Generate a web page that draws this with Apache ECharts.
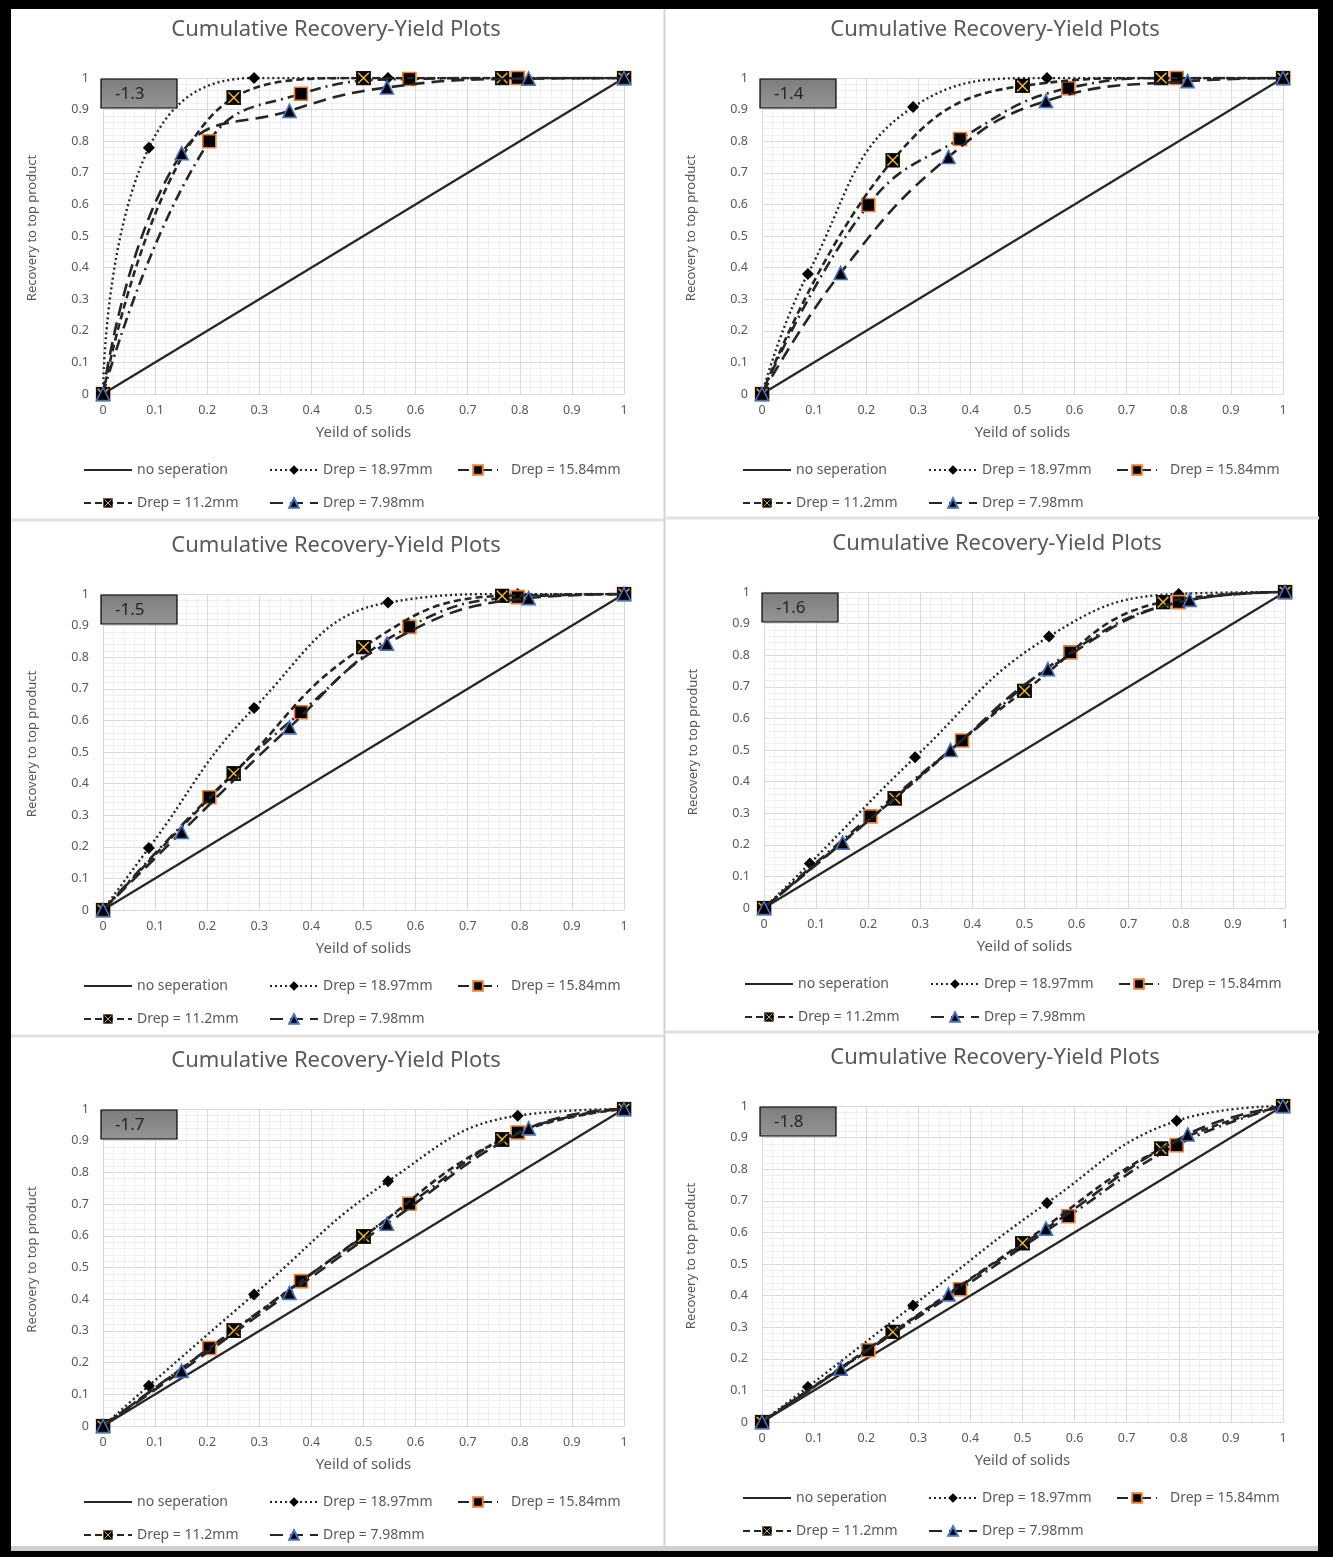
<!DOCTYPE html>
<html>
<head>
<meta charset="utf-8">
<title>Cumulative Recovery-Yield Plots</title>
<script src="https://cdn.jsdelivr.net/npm/echarts@6/dist/echarts.min.js"></script>
<style>
  html, body { margin: 0; padding: 0; background: #000; }
  #frame { position: relative; width: 1333px; height: 1557px; background: #000; overflow: hidden; }
  #sheet { position: absolute; left: 11px; top: 9px; width: 1307px; height: 1542px; background: #fff; }
  #chart { position: absolute; left: 0; top: 0; width: 1333px; height: 1557px; }
</style>
</head>
<body>
<div id="frame"><div id="sheet"></div><div id="chart"></div></div>
<script>
// Relative density cut points, one panel each
const densities = ['-1.3', '-1.4', '-1.5', '-1.6', '-1.7', '-1.8'];

const seriesNames = ['no seperation', 'Drep = 18.97mm', 'Drep = 15.84mm', 'Drep = 11.2mm', 'Drep = 7.98mm'];

// Cumulative yield of solids for each size fraction (x values)
const yield1897 = [0, 0.088, 0.290, 0.547, 0.796, 1];
const yield1584 = [0, 0.204, 0.380, 0.588, 0.796, 1];
const yield112  = [0, 0.251, 0.500, 0.766, 1];
const yield798  = [0, 0.151, 0.358, 0.545, 0.817, 1];

// Cumulative recovery to top product, one row per density panel
const recovery1897 = [
  [0, 0.779, 1.000, 1.000, 1.000, 1],
  [0, 0.380, 0.908, 1.000, 1.000, 1],
  [0, 0.196, 0.639, 0.973, 1.000, 1],
  [0, 0.141, 0.477, 0.859, 0.994, 1],
  [0, 0.127, 0.415, 0.772, 0.979, 1],
  [0, 0.111, 0.369, 0.693, 0.953, 1]
];
const recovery1584 = [
  [0, 0.800, 0.950, 0.997, 1.000, 1],
  [0, 0.598, 0.807, 0.968, 1.000, 1],
  [0, 0.357, 0.626, 0.896, 0.990, 1],
  [0, 0.290, 0.530, 0.809, 0.968, 1],
  [0, 0.246, 0.457, 0.701, 0.926, 1],
  [0, 0.227, 0.420, 0.651, 0.876, 1]
];
const recovery112 = [
  [0, 0.938, 1.000, 1.000, 1],
  [0, 0.740, 0.975, 1.000, 1],
  [0, 0.432, 0.832, 0.994, 1],
  [0, 0.347, 0.687, 0.968, 1],
  [0, 0.301, 0.598, 0.904, 1],
  [0, 0.285, 0.566, 0.865, 1]
];
const recovery798 = [
  [0, 0.762, 0.896, 0.970, 0.998, 1],
  [0, 0.383, 0.750, 0.927, 0.990, 1],
  [0, 0.247, 0.578, 0.843, 0.987, 1],
  [0, 0.207, 0.500, 0.756, 0.975, 1],
  [0, 0.174, 0.420, 0.638, 0.939, 1],
  [0, 0.169, 0.404, 0.612, 0.910, 1]
];

// No-separation diagonal
const diagonalX = [0, 1];
const diagonalY = [0, 1];

// Plot-area placement of each panel (pixels)
const panels = [
  { L: 103, T: 78,   H: 316, cx: 336 },
  { L: 762, T: 78,   H: 316, cx: 995 },
  { L: 103, T: 594,  H: 316, cx: 336 },
  { L: 764, T: 592,  H: 316, cx: 997 },
  { L: 103, T: 1109, H: 317, cx: 336 },
  { L: 762, T: 1106, H: 316, cx: 995 }
];
const plotW = 521;

const ink = '#262626';
const textGrey = '#595959';
const fontFam = '"Noto Sans", "Open Sans", sans-serif';

function pairs(xs, ys) { return xs.map((x, i) => [x, ys[i]]); }

const xMarkSvg = "<svg xmlns='http://www.w3.org/2000/svg' width='28' height='28' viewBox='0 0 28 28'>" +
  "<rect x='1' y='1' width='26' height='26' fill='#000' stroke='#1a1a1a' stroke-width='2'/>" +
  "<path d='M4 4L24 24M24 4L4 24' stroke='#FFC000' stroke-width='2.6'/></svg>";
const xMarkSymbol = 'image://data:image/svg+xml;charset=utf-8,' + encodeURIComponent(xMarkSvg);

const styleBySeries = [
  { lineStyle: { color: ink, width: 2.2, type: 'solid' }, symbol: 'none', symbolSize: 0, itemStyle: { color: ink } },
  { lineStyle: { color: ink, width: 2.4, type: [2, 3] }, symbol: 'diamond', symbolSize: 12, itemStyle: { color: '#000' } },
  { lineStyle: { color: ink, width: 2.6, type: [11, 5, 2, 5] }, symbol: 'rect', symbolSize: 13,
    itemStyle: { color: '#000', borderColor: '#ED7D31', borderWidth: 1.6 } },
  { lineStyle: { color: ink, width: 2.6, type: [7, 4] }, symbol: xMarkSymbol, symbolSize: 15, itemStyle: { color: '#000' } },
  { lineStyle: { color: ink, width: 2.6, type: [13, 7] }, symbol: 'triangle', symbolSize: 13,
    itemStyle: { color: '#000', borderColor: '#4472C4', borderWidth: 1.6 } }
];

const grids = [], xAxes = [], yAxes = [], series = [], legends = [], graphics = [];

// Sheet dividers between the six plots
graphics.push(
  { type: 'line', shape: { x1: 664.5, y1: 9, x2: 664.5, y2: 1551 }, style: { stroke: '#d4d4d4', lineWidth: 2 }, z: 0 },
  { type: 'line', shape: { x1: 11, y1: 520, x2: 664, y2: 520 }, style: { stroke: '#e0e0e0', lineWidth: 3 }, z: 0 },
  { type: 'line', shape: { x1: 665, y1: 518, x2: 1319, y2: 518 }, style: { stroke: '#e0e0e0', lineWidth: 3 }, z: 0 },
  { type: 'line', shape: { x1: 11, y1: 1036, x2: 664, y2: 1036 }, style: { stroke: '#e0e0e0', lineWidth: 3 }, z: 0 },
  { type: 'line', shape: { x1: 665, y1: 1032, x2: 1319, y2: 1032 }, style: { stroke: '#e0e0e0', lineWidth: 3 }, z: 0 },
  { type: 'rect', shape: { x: 11, y: 1546, width: 1307, height: 5 }, style: { fill: '#cfcfcf' }, z: 0 }
);

panels.forEach((p, i) => {
  grids.push({ left: p.L, top: p.T, width: plotW, height: p.H, containLabel: false });

  const axisCommon = {
    gridIndex: i, type: 'value', min: 0, max: 1, interval: 0.1,
    nameLocation: 'middle',
    axisLine: { show: true, lineStyle: { color: '#d9d9d9', width: 1 } },
    axisTick: { show: false },
    axisLabel: { color: textGrey, fontSize: 12.5, fontFamily: fontFam },
    splitLine: { show: true, lineStyle: { color: '#d9d9d9', width: 1 } },
    minorTick: { show: false, splitNumber: 5 },
    minorSplitLine: { show: true, lineStyle: { color: '#efefef', width: 1 } }
  };
  xAxes.push(Object.assign({}, axisCommon, {
    name: 'Yeild of solids', nameGap: 31,
    nameTextStyle: { color: textGrey, fontSize: 15, fontFamily: fontFam },
    axisLabel: Object.assign({}, axisCommon.axisLabel, { margin: 10 })
  }));
  yAxes.push(Object.assign({}, axisCommon, {
    name: 'Recovery to top product', nameGap: 64,
    nameTextStyle: { color: textGrey, fontSize: 13, fontFamily: fontFam, padding: [0, 0, 0, 16] },
    axisLabel: Object.assign({}, axisCommon.axisLabel, { margin: 14 })
  }));

  const sets = [
    pairs(diagonalX, diagonalY),
    pairs(yield1897, recovery1897[i]),
    pairs(yield1584, recovery1584[i]),
    pairs(yield112, recovery112[i]),
    pairs(yield798, recovery798[i])
  ];
  sets.forEach((data, k) => {
    const st = styleBySeries[k];
    series.push({
      type: 'line', name: seriesNames[k], xAxisIndex: i, yAxisIndex: i,
      data: data, smooth: k === 0 ? false : 0.45,
      symbol: st.symbol, symbolSize: st.symbolSize, showSymbol: k !== 0,
      lineStyle: st.lineStyle, itemStyle: st.itemStyle,
      z: 2 + k, animation: false, silent: true
    });
  });

  // Legend entries, laid out in two rows under the plot
  const B = p.T + p.H;
  const legendSpots = [
    { k: 0, x: p.L - 20, y: B + 75, w: 48, pad: 0 },
    { k: 1, x: p.L + 166, y: B + 75, w: 48, pad: 0 },
    { k: 2, x: p.L + 354, y: B + 75, w: 40, pad: 8 },
    { k: 3, x: p.L - 20, y: B + 108, w: 48, pad: 0 },
    { k: 4, x: p.L + 166, y: B + 108, w: 48, pad: 0 }
  ];
  legendSpots.forEach(s => {
    const item = s.k === 0
      ? { name: seriesNames[0], itemStyle: { color: 'transparent', borderWidth: 0 } }
      : { name: seriesNames[s.k] };
    legends.push({
      data: [item], left: s.x, top: s.y - 6, padding: 0,
      itemWidth: s.w, itemHeight: 12, itemGap: 0, selectedMode: false,
      textStyle: { color: textGrey, fontSize: 14, fontFamily: fontFam, padding: [0, 0, 0, s.pad] }
    });
  });

  // Title above each plot
  graphics.push({
    type: 'text', x: p.cx, y: p.T - 48, z: 10,
    style: { text: 'Cumulative Recovery-Yield Plots', fill: textGrey, font: '22px ' + fontFam,
      align: 'center', verticalAlign: 'middle' }
  });

  // Density tag box in the upper-left corner of each plot
  graphics.push({
    type: 'rect', z: 20,
    shape: { x: p.L - 2, y: p.T + 1, width: 76, height: 29 },
    style: {
      fill: new echarts.graphic.LinearGradient(0, 0, 0, 1, [
        { offset: 0, color: '#7d7d7d' }, { offset: 1, color: '#959595' }
      ]),
      stroke: '#000', lineWidth: 1.2
    }
  });
  graphics.push({
    type: 'text', z: 21, x: p.L + 12, y: p.T + 16,
    style: { text: densities[i], fill: ink, font: '17px ' + fontFam, verticalAlign: 'middle' }
  });
});

const chart = echarts.init(document.getElementById('chart'));
chart.setOption({
  backgroundColor: 'transparent',
  animation: false,
  grid: grids,
  xAxis: xAxes,
  yAxis: yAxes,
  legend: legends,
  series: series,
  graphic: graphics
});
</script>
</body>
</html>
